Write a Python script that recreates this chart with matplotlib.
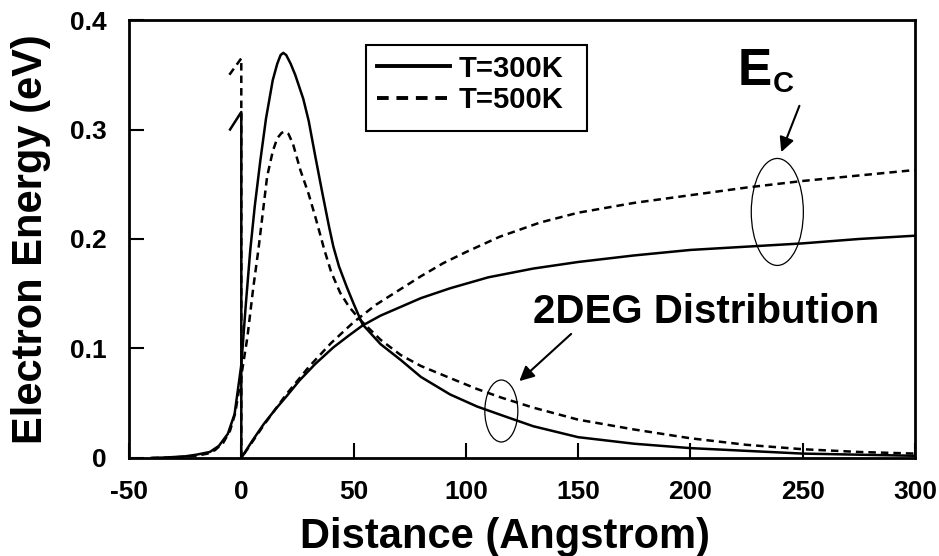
import matplotlib
matplotlib.use('Agg')
import matplotlib.pyplot as plt
from matplotlib.patches import Ellipse, Rectangle

plt.rcParams['font.family'] = ['Liberation Sans', 'DejaVu Sans']
plt.rcParams['font.weight'] = 'bold'
plt.rcParams['axes.unicode_minus'] = False

# conduction band edge, T=300K (barrier stub, drop at x=0, then rise)
ec300_x = [-5, 0, 0, 5, 10, 15, 20, 26, 33, 41, 48, 54, 62, 71, 80, 93, 110, 130, 150,
           175, 200, 225, 250, 275, 300]
ec300_y = [0.300, 0.316, 0, 0.016, 0.031, 0.044, 0.056, 0.071, 0.086, 0.101, 0.112, 0.121,
           0.130, 0.138, 0.146, 0.155, 0.165, 0.173, 0.179, 0.185, 0.190, 0.193, 0.196,
           0.200, 0.203]

# conduction band edge, T=500K
ec500_x = [-5.3, 0, 0, 10, 20, 30, 40, 50, 60, 70, 80, 90, 100, 115, 133, 150, 175, 200,
           225, 250, 275, 300]
ec500_y = [0.350, 0.365, 0, 0.030, 0.058, 0.083, 0.105, 0.124, 0.140, 0.153, 0.166, 0.178,
           0.188, 0.202, 0.215, 0.224, 0.233, 0.240, 0.247, 0.253, 0.258, 0.263]

# 2DEG distribution, T=300K
deg300_x = [-40, -33, -25, -20, -14, -10, -6, -3, 0, 2, 4, 6, 8.5, 11, 14, 16, 17.5, 18.7,
            20, 22, 24, 27.6, 30, 33, 36, 39, 41, 43.5, 47, 50, 54, 62, 71, 80, 93, 105,
            116, 130, 150, 175, 200, 250, 300]
deg300_y = [0, 0.0005, 0.0015, 0.003, 0.0055, 0.011, 0.022, 0.040, 0.085, 0.14, 0.19, 0.23,
            0.272, 0.31, 0.345, 0.360, 0.368, 0.370, 0.368, 0.360, 0.350, 0.328, 0.308,
            0.275, 0.243, 0.212, 0.193, 0.175, 0.156, 0.141, 0.122, 0.104, 0.0895, 0.074,
            0.058, 0.047, 0.039, 0.029, 0.019, 0.013, 0.009, 0.004, 0.002]

# 2DEG distribution, T=500K
deg500_x = [-40, -30, -20, -15, -11.6, -8, -5, -2.7, 0, 2.7, 5.3, 7.6, 11.5, 14, 16, 18,
            19.6, 21, 23, 26.3, 30, 33, 37, 40, 44, 48, 53, 62, 71, 80, 93, 105, 116, 130,
            150, 175, 200, 225, 250, 275, 300]
deg500_y = [0, 0.0005, 0.002, 0.004, 0.0073, 0.014, 0.025, 0.041, 0.075, 0.11, 0.155, 0.19,
            0.257, 0.280, 0.292, 0.297, 0.298, 0.296, 0.287, 0.263, 0.241, 0.220, 0.190,
            0.170, 0.151, 0.138, 0.126, 0.108, 0.094, 0.084, 0.073, 0.063, 0.055, 0.046,
            0.035, 0.026, 0.018, 0.012, 0.008, 0.0055, 0.004]

dash = (0, (3, 2))

fig = plt.figure(figsize=(9.39, 5.56), dpi=100)
ax = fig.add_axes([0.1374, 0.1763, 0.837, 0.7877])

l1, = ax.plot(ec300_x, ec300_y, color='black', lw=1.8, label='T=300K')
l2, = ax.plot(ec500_x, ec500_y, color='black', lw=1.8, linestyle=dash, label='T=500K')
ax.plot(deg300_x, deg300_y, color='black', lw=1.8)
ax.plot(deg500_x, deg500_y, color='black', lw=1.8, linestyle=dash)

ax.set_xlim(-50, 300)
ax.set_ylim(0, 0.4)
ax.set_xticks([-50, 0, 50, 100, 150, 200, 250, 300])
ax.set_yticks([0, 0.1, 0.2, 0.3, 0.4])
ax.set_yticklabels(['0', '0.1', '0.2', '0.3', '0.4'])
ax.tick_params(direction='in', length=11, width=1.5, labelsize=19)
ax.tick_params(axis='y', pad=16)
ax.tick_params(axis='x', pad=16)
for lab in ax.get_xticklabels() + ax.get_yticklabels():
    lab.set_fontweight('bold')
for sp in ax.spines.values():
    sp.set_linewidth(2)

ax.set_xlabel('Distance (Angstrom)', fontsize=30, fontweight='bold', labelpad=8)
ax.xaxis.set_label_coords(0.478, -0.135)
ax.set_ylabel('Electron Energy (eV)', fontsize=30, fontweight='bold', labelpad=14)

# legend: box drawn separately, entries without frame
ax.add_patch(Rectangle((0.3015, 0.7466), 0.2812, 0.1963, transform=ax.transAxes,
                       fill=False, edgecolor='black', lw=1.5, zorder=5))
leg = ax.legend(handles=[l1, l2], loc='upper left', bbox_to_anchor=(0.3155, 0.921),
                fontsize=21, frameon=False, handlelength=2.5,
                handletextpad=0.3, labelspacing=0.12, borderpad=0, borderaxespad=0)
for ln in leg.get_lines():
    ln.set_linewidth(2.8)
for t in leg.get_texts():
    t.set_fontweight('bold')

# annotations
ax.text(221, 0.3406, 'E', fontsize=37, fontweight='bold', ha='left', va='baseline')
ax.text(236.5, 0.334, 'C', fontsize=21, fontweight='bold', ha='left', va='baseline')
ax.annotate('', xy=(240, 0.277), xytext=(249, 0.324),
            arrowprops=dict(arrowstyle='-|>', color='black', lw=1.5, mutation_scale=22))
ax.add_patch(Ellipse((238.7, 0.2247), 23.2, 0.0977, fill=False, edgecolor='black', lw=0.9))

ax.text(130, 0.123, '2DEG Distribution', fontsize=29, fontweight='bold',
        ha='left', va='baseline')
ax.annotate('', xy=(122.9, 0.0685), xytext=(147.8, 0.115),
            arrowprops=dict(arrowstyle='-|>', color='black', lw=1.5, mutation_scale=22))
ax.add_patch(Ellipse((115.8, 0.0429), 14.7, 0.0566, fill=False, edgecolor='black', lw=0.9))

plt.savefig('out.png', dpi=100)
